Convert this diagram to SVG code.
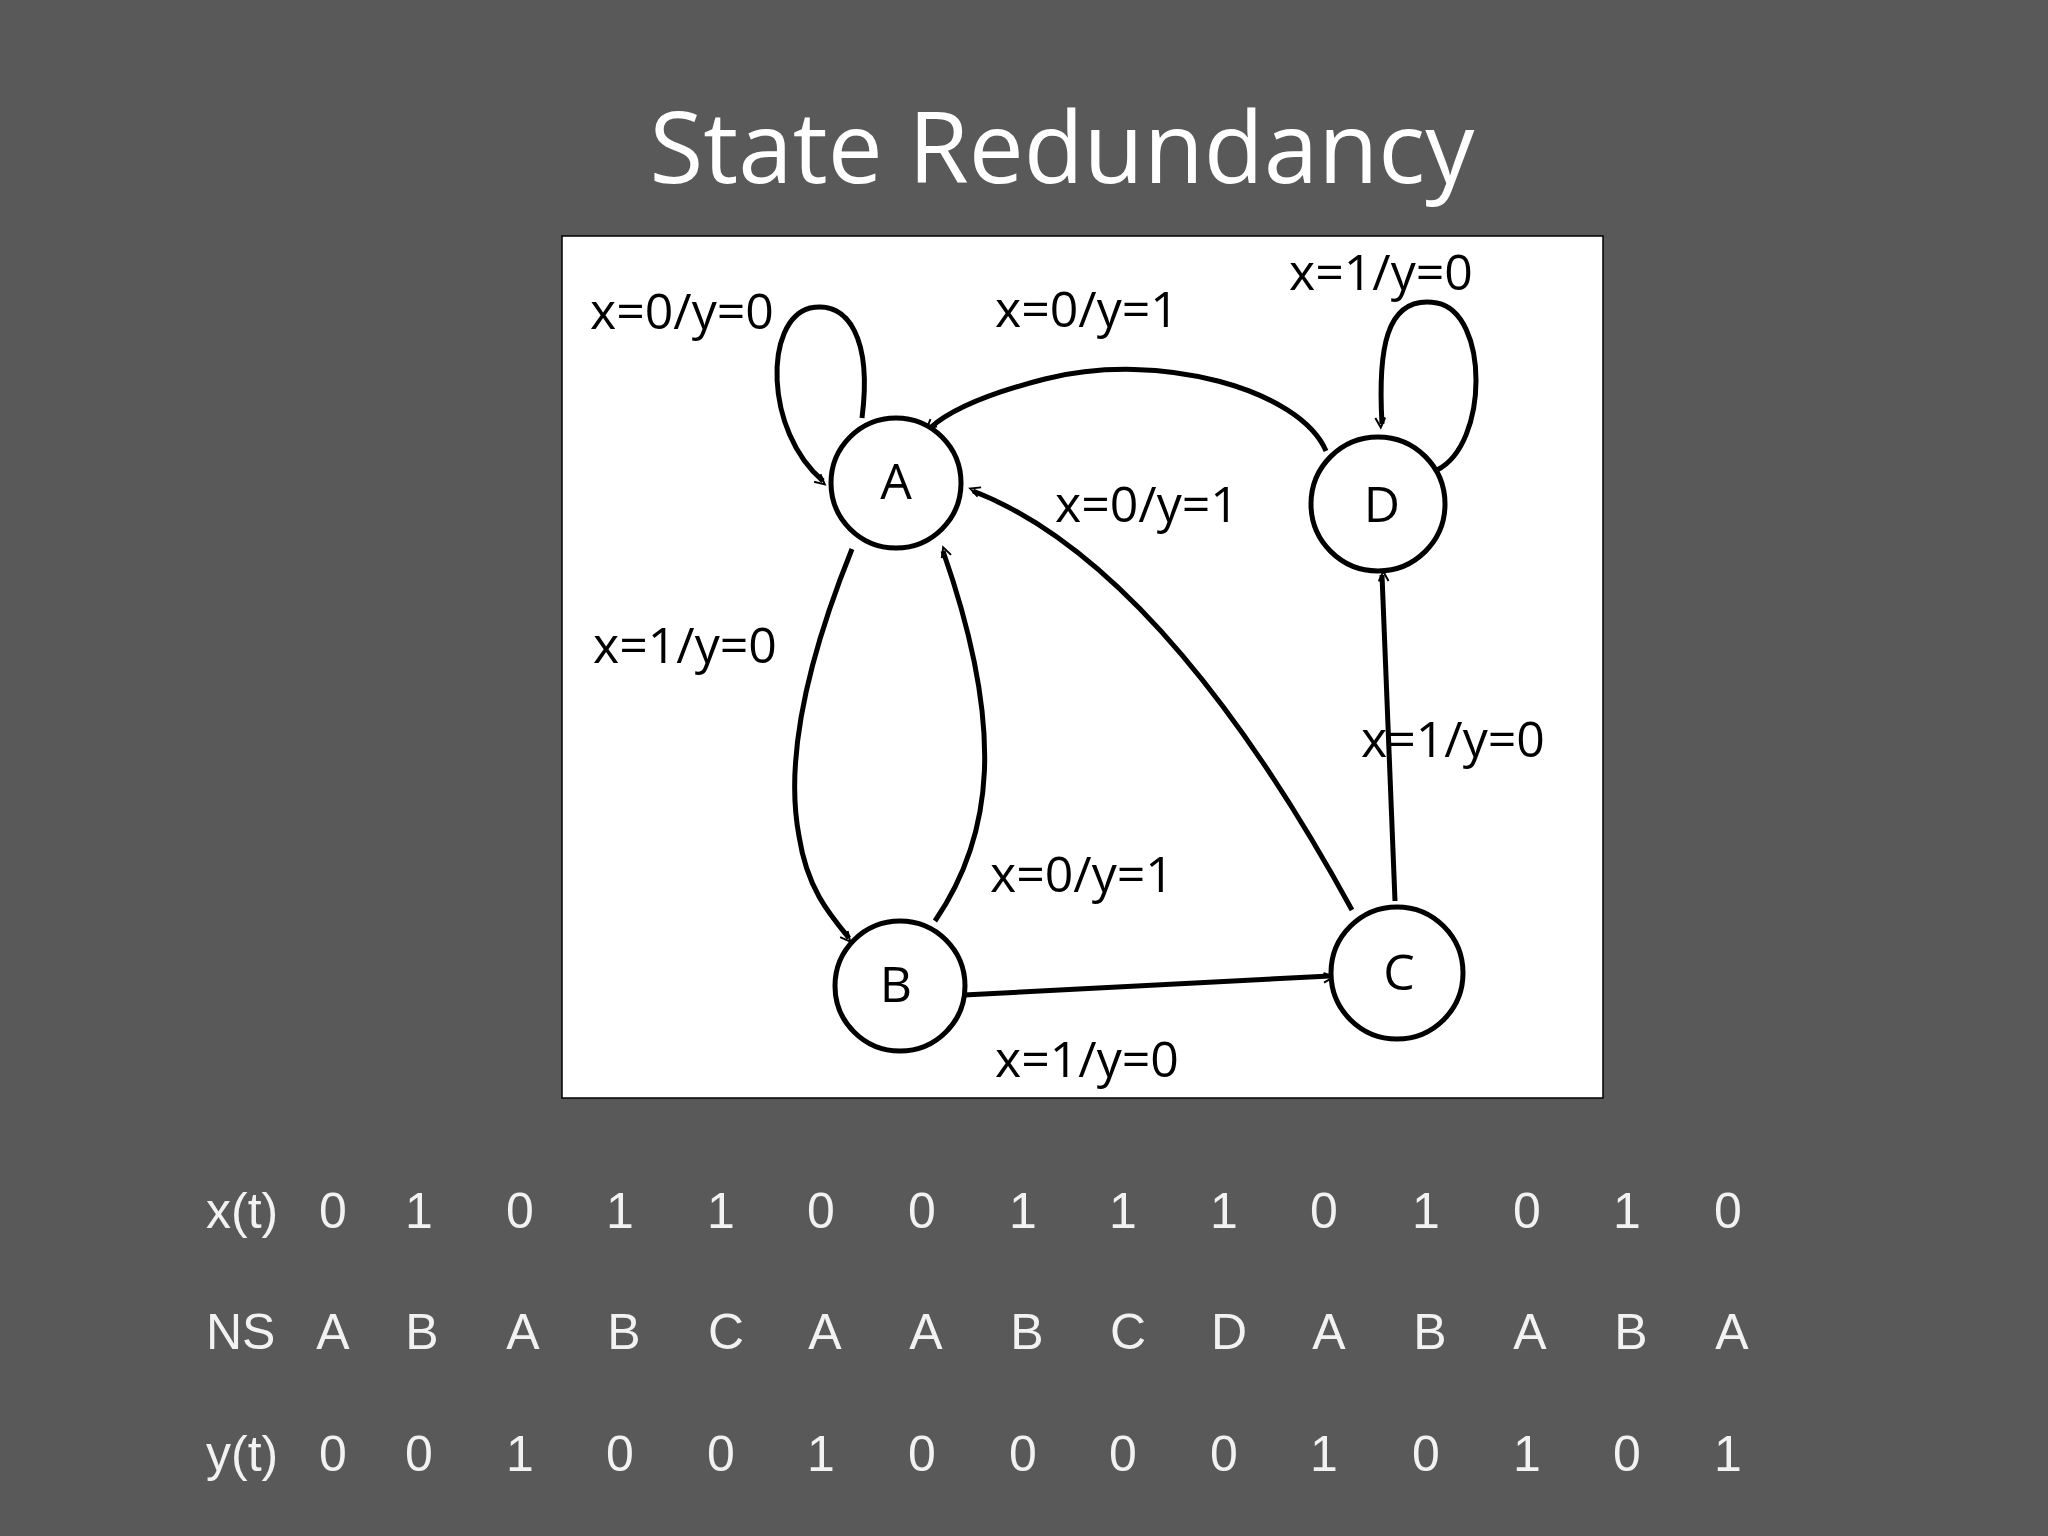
<svg xmlns="http://www.w3.org/2000/svg" width="2048" height="1536" viewBox="0 0 2048 1536">
<style>
.t{font-family:"Open Sans","Liberation Sans",sans-serif;font-size:50px;fill:#000}
.n{fill:#fff;stroke:#000;stroke-width:5}
.e{fill:none;stroke:#000;stroke-width:5;marker-end:url(#ah)}
.tb{font-family:"Liberation Sans",Arial,sans-serif;font-size:50px;fill:#f2f2f2;text-anchor:middle}
</style>
<defs><marker id="ah" viewBox="0 0 20 20" refX="18" refY="10" markerWidth="7" markerHeight="7" orient="auto" markerUnits="userSpaceOnUse" overflow="visible"><path d="M0,0 L20,10 L0,20" fill="none" stroke="#000" stroke-width="4" transform="scale(1.4)"/></marker></defs>
<rect width="2048" height="1536" fill="#595959"/>
<text x="1062" y="183" font-family="'Open Sans','Liberation Sans',sans-serif" font-size="98" fill="#fff" text-anchor="middle">State Redundancy</text>
<rect x="562" y="236" width="1041" height="862" fill="#fff" stroke="#000" stroke-width="1.5"/>
<g id="edges">
<path class="e" d="M862,418 C872,340 849,300 810,308 C764,320 764,431 823,481"/>
<path class="e" d="M1437,470 C1489,444 1489,313 1437,303 C1384,294 1378,353 1382,424"/>
<path class="e" d="M1326,451 C1300,390 1160,350 1045,379 C990,393 950,410 930,428"/>
<path class="e" d="M1352,910 C1254,731 1123,549 973,491"/>
<path class="e" d="M852,549 C810,653 784,757 799,836 C807,888 829,914 849,938"/>
<path class="e" d="M935,921 C993,836 1006,731 943,551"/>
<path class="e" d="M964,995 L1330,976"/>
<path class="e" d="M1395,901 L1382,575"/>
</g>
<g id="A"><circle class="n" cx="896" cy="483" r="65"/><text class="t" x="896" y="499" text-anchor="middle">A</text></g>
<g id="D"><circle class="n" cx="1378" cy="504" r="67"/><text class="t" x="1382" y="522" text-anchor="middle">D</text></g>
<g id="B"><circle class="n" cx="900" cy="986" r="65"/><text class="t" x="896" y="1002" text-anchor="middle">B</text></g>
<g id="C"><circle class="n" cx="1397" cy="973" r="66"/><text class="t" x="1399" y="990" text-anchor="middle">C</text></g>
<g id="labels">
<text class="t" x="590" y="329">x=0/y=0</text>
<text class="t" x="995" y="327">x=0/y=1</text>
<text class="t" x="1289" y="290">x=1/y=0</text>
<text class="t" x="1055" y="522">x=0/y=1</text>
<text class="t" x="593" y="663">x=1/y=0</text>
<text class="t" x="1361" y="757">x=1/y=0</text>
<text class="t" x="990" y="892">x=0/y=1</text>
<text class="t" x="995" y="1077">x=1/y=0</text>
</g>
<g id="table">
<text class="tb" x="206" y="1228" text-anchor="start" style="text-anchor:start">x(t)</text>
<text class="tb" x="206" y="1349" style="text-anchor:start">NS</text>
<text class="tb" x="206" y="1471" style="text-anchor:start">y(t)</text>
<text class="tb" y="1228"><tspan x="333">0</tspan><tspan x="419">1</tspan><tspan x="520">0</tspan><tspan x="620">1</tspan><tspan x="721">1</tspan><tspan x="821">0</tspan><tspan x="922">0</tspan><tspan x="1023">1</tspan><tspan x="1123">1</tspan><tspan x="1224">1</tspan><tspan x="1324">0</tspan><tspan x="1426">1</tspan><tspan x="1527">0</tspan><tspan x="1627">1</tspan><tspan x="1728">0</tspan></text>
<text class="tb" y="1349"><tspan x="333">A</tspan><tspan x="422">B</tspan><tspan x="523">A</tspan><tspan x="624">B</tspan><tspan x="726">C</tspan><tspan x="825">A</tspan><tspan x="926">A</tspan><tspan x="1027">B</tspan><tspan x="1128">C</tspan><tspan x="1229">D</tspan><tspan x="1329">A</tspan><tspan x="1430">B</tspan><tspan x="1530">A</tspan><tspan x="1631">B</tspan><tspan x="1732">A</tspan></text>
<text class="tb" y="1471"><tspan x="333">0</tspan><tspan x="419">0</tspan><tspan x="520">1</tspan><tspan x="620">0</tspan><tspan x="721">0</tspan><tspan x="821">1</tspan><tspan x="922">0</tspan><tspan x="1023">0</tspan><tspan x="1123">0</tspan><tspan x="1224">0</tspan><tspan x="1324">1</tspan><tspan x="1426">0</tspan><tspan x="1527">1</tspan><tspan x="1627">0</tspan><tspan x="1728">1</tspan></text>
</g>
</svg>
